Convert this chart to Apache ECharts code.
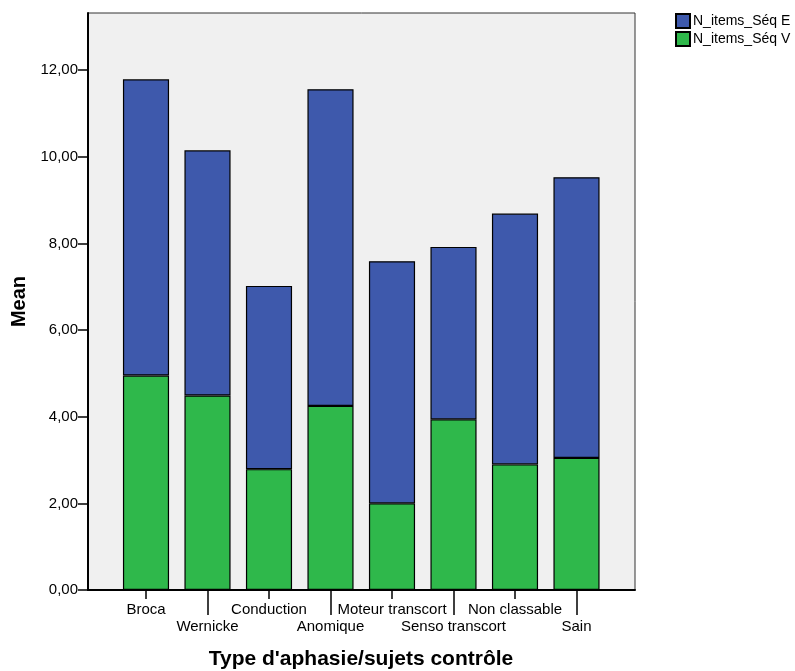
<!DOCTYPE html>
<html>
<head>
<meta charset="utf-8">
<script src="https://cdn.jsdelivr.net/npm/echarts@6/dist/echarts.min.js"></script>
<style>html,body{margin:0;padding:0;background:#fff}#c{width:795px;height:671px}</style>
</head>
<body>
<div id="c"></div>
<script>
var categories = ['Broca', 'Wernicke', 'Conduction', 'Anomique', 'Moteur transcort', 'Senso transcort', 'Non classable', 'Sain'];
var seqV = [4.95, 4.49, 2.79, 4.25, 2.00, 3.94, 2.90, 3.05];
var seqE = [6.84, 5.66, 4.23, 7.31, 5.59, 3.98, 5.79, 6.48];
var yTicks = [0, 2, 4, 6, 8, 10, 12];
var seriesNames = ['N_items_Séq E', 'N_items_Séq V'];

var FONT = 'Liberation Sans, Arial, sans-serif';
var YMAX = 13.32;
var chart = echarts.init(document.getElementById('c'), null, {renderer: 'canvas'});
chart.setOption({
  animation: false,
  textStyle: {fontFamily: FONT, color: '#000'},
  title: {
    text: "Type d'aphasie/sujets contrôle",
    left: 361, top: 649, textAlign: 'center', padding: 0,
    textStyle: {fontFamily: FONT, fontSize: 21, fontWeight: 'bold', color: '#000'}
  },
  legend: {
    orient: 'vertical', left: 675, top: 13, padding: 0, itemWidth: 14, itemHeight: 14, itemGap: 2,
    icon: 'rect', data: seriesNames,
    textStyle: {fontFamily: FONT, fontSize: 14, color: '#000', padding: [0, 0, 0, -2]}
  },
  grid: [
    {left: 88, right: 160, top: 13, bottom: 81, show: true, backgroundColor: '#f0f0f0', borderColor: '#333', borderWidth: 1},
    {left: 115.25, right: 187.75, top: 13, bottom: 81},
    {left: 115.25, right: 187.75, top: 13, bottom: 81}
  ],
  xAxis: [
    {type: 'category', gridIndex: 0, data: categories,
      axisLine: {show: true, lineStyle: {color: '#000', width: 2}},
      axisTick: {show: false}, axisLabel: {show: false}},
    {type: 'category', gridIndex: 1, data: categories,
      axisLine: {show: true, lineStyle: {color: '#000', width: 2}},
      axisTick: {show: true, alignWithLabel: true, length: 9, lineStyle: {color: '#000', width: 1.5},
        interval: function (i) { return i % 2 === 0; }},
      axisLabel: {interval: 0, margin: 11, fontSize: 15, lineHeight: 17, color: '#000', fontFamily: FONT,
        formatter: function (v, i) { return i % 2 ? '\n' + v : v; }}
    },
    {type: 'category', gridIndex: 2, data: categories,
      axisLine: {show: true, lineStyle: {color: '#000', width: 2}},
      axisTick: {show: true, alignWithLabel: true, length: 25, lineStyle: {color: '#000', width: 1.5},
        interval: function (i) { return i % 2 === 1; }},
      axisLabel: {show: false}
    }
  ],
  yAxis: [
    {type: 'value', gridIndex: 0, min: 0, max: YMAX,
      name: 'Mean', nameLocation: 'middle', nameGap: 54, nameRotate: 90,
      nameTextStyle: {fontFamily: FONT, fontSize: 20, fontWeight: 'bold', color: '#000'},
      splitLine: {show: false},
      axisLine: {show: true, lineStyle: {color: '#000', width: 2}},
      axisTick: {show: true, length: 10, customValues: yTicks, lineStyle: {color: '#000', width: 1.5}},
      axisLabel: {margin: 10, fontSize: 15, color: '#000', fontFamily: FONT, customValues: yTicks,
        formatter: function (v) { return v.toFixed(2).replace('.', ','); }}
    },
    {type: 'value', gridIndex: 1, min: 0, max: YMAX, show: false},
    {type: 'value', gridIndex: 2, min: 0, max: YMAX, show: false}
  ],
  series: [
    {name: seriesNames[1], type: 'bar', stack: 's', xAxisIndex: 1, yAxisIndex: 1, data: seqV, barWidth: '75%',
      itemStyle: {color: '#2fb84b', borderColor: '#000', borderWidth: 1.2}},
    {name: seriesNames[0], type: 'bar', stack: 's', xAxisIndex: 1, yAxisIndex: 1, data: seqE, barWidth: '75%',
      itemStyle: {color: '#3e59ac', borderColor: '#000', borderWidth: 1.2}}
  ]
});
</script>
</body>
</html>
